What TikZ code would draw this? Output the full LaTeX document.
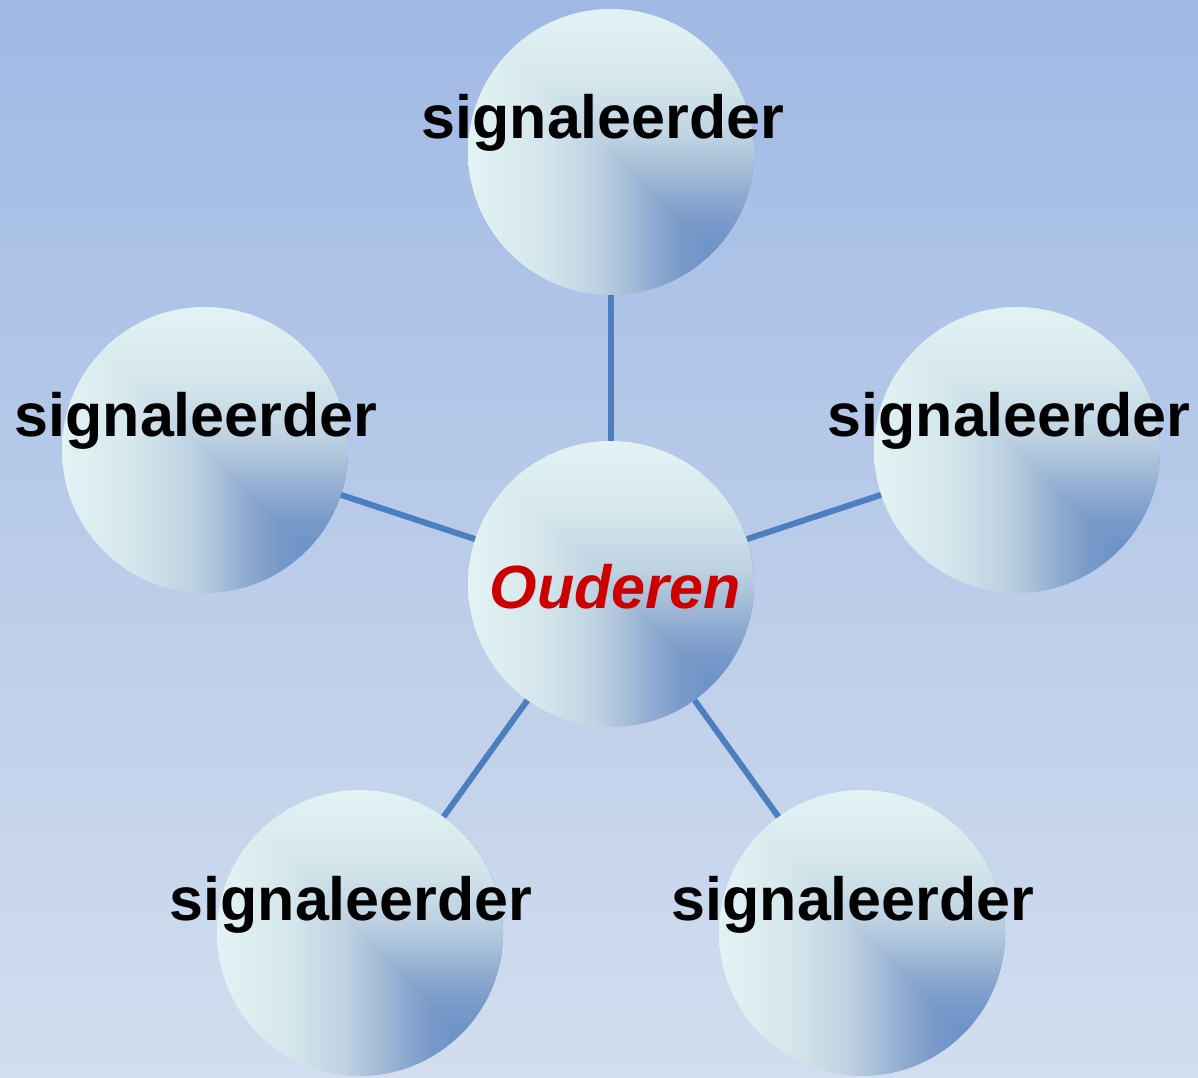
\documentclass[tikz,border=0pt]{standalone}
\usepackage{fontspec}
\setmainfont{Liberation Sans}
\definecolor{bgtop}{HTML}{A0B9E4}
\definecolor{bgbot}{HTML}{D2DEEF}
\definecolor{linkblue}{HTML}{4B7FBF}
\definecolor{redtxt}{HTML}{CC0000}
\definecolor{s0}{HTML}{E3F3F4}
\definecolor{s1}{HTML}{D5E7EC}
\definecolor{s2}{HTML}{BED2E2}
\definecolor{s3}{HTML}{A8BFD9}
\definecolor{s4}{HTML}{8EAAD0}
\definecolor{s5}{HTML}{789AC9}
\definecolor{s6}{HTML}{6690C6}
\definecolor{s7}{HTML}{5A86C0}
\pgfdeclarehorizontalshading{ballh}{100bp}{color(0bp)=(s0); color(25bp)=(s0); color(37.5bp)=(s1); color(47.5bp)=(s2); color(52.5bp)=(s3); color(57.5bp)=(s4); color(62.5bp)=(s5); color(70bp)=(s6); color(75bp)=(s7); color(100bp)=(s7)}
\pgfdeclareverticalshading{ballv}{100bp}{color(0bp)=(s7); color(25bp)=(s7); color(30bp)=(s6); color(37.5bp)=(s5); color(42.5bp)=(s4); color(47.5bp)=(s3); color(52.5bp)=(s2); color(62.5bp)=(s1); color(75bp)=(s0); color(100bp)=(s0)}
\tikzset{
  ball/.style={circle, minimum size=286pt, inner sep=0pt, draw=none,
    path picture={
      \shade[shading=ballh] (path picture bounding box.north west) rectangle (path picture bounding box.south east);
      \shade[shading=ballv] (path picture bounding box.north west) -- (path picture bounding box.north east) -- (path picture bounding box.south east) -- cycle;
    }},
  link/.style={draw=linkblue, line width=6pt},
  lbl/.style={anchor=base, inner sep=0pt, font=\fontsize{61}{73}\selectfont\bfseries},
  mainlbl/.style={anchor=base, inner sep=0pt, text=redtxt, font=\fontsize{61}{73}\selectfont\bfseries\itshape}
}
\begin{document}
\begin{tikzpicture}[x=1pt,y=1pt]
\useasboundingbox (0,0) rectangle (1198,1077);
\shade[top color=bgtop, bottom color=bgbot] (0,0) rectangle (1198,1077);
\node[ball] (C) at (611,493) {};
\node[ball] (T) at (611,925) {};
\node[ball] (L) at (205,627) {};
\node[ball] (R) at (1017,627) {};
\node[ball] (BL) at (360,144) {};
\node[ball] (BR) at (862,144) {};
\draw[link] (C) -- (T);
\draw[link] (C) -- (L);
\draw[link] (C) -- (R);
\draw[link] (C) -- (BL);
\draw[link] (C) -- (BR);
\node[lbl] (tT) at (603,938) {signaleerder};
\node[lbl] (tL) at (196,640) {signaleerder};
\node[lbl] (tR) at (1009,640) {signaleerder};
\node[lbl] (tBL) at (351,157) {signaleerder};
\node[lbl] (tBR) at (853,157) {signaleerder};
\node[mainlbl] (tC) at (615,468) {Ouderen};
\end{tikzpicture}
\end{document}
